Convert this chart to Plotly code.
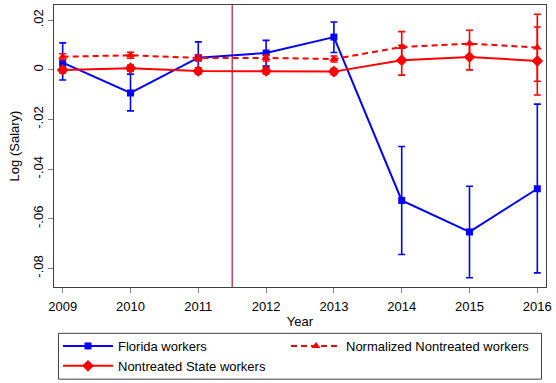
import plotly.graph_objects as go

# Survey years
years = [2009, 2010, 2011, 2012, 2013, 2014, 2015, 2016]

# Florida workers: point estimates and 95% CI bounds
florida = [0.0029, -0.0093, 0.0049, 0.0068, 0.0132, -0.0526, -0.0653, -0.0479]
florida_hi = [0.0109, -0.0017, 0.0113, 0.0119, 0.0193, -0.0309, -0.0469, -0.0138]
florida_lo = [-0.0041, -0.0165, -0.0013, 0.0015, 0.0070, -0.0744, -0.0838, -0.0818]

# Normalized nontreated workers
normalized = [0.0053, 0.0059, 0.0048, 0.0048, 0.0044, 0.0092, 0.0106, 0.0090]
normalized_hi = [0.0065, 0.0071, 0.0060, 0.0060, 0.0056, 0.0154, 0.0160, 0.0224]
normalized_lo = [0.0041, 0.0047, 0.0036, 0.0036, 0.0032, 0.0030, 0.0052, -0.0046]

# Nontreated state workers
nontreated = [0.0000, 0.0007, -0.0004, -0.0004, -0.0007, 0.0039, 0.0052, 0.0036]
nontreated_hi = [0.0012, 0.0019, 0.0008, 0.0008, 0.0005, 0.0099, 0.0104, 0.0173]
nontreated_lo = [-0.0012, -0.0005, -0.0016, -0.0016, -0.0019, -0.0021, 0.0000, -0.0101]

# Policy break between 2011 and 2012
policy_year = 2011.5

y_ticks = [-0.08, -0.06, -0.04, -0.02, 0, 0.02]
y_labels = ["-.08", "-.06", "-.04", "-.02", "0", ".02"]

FONT = "Liberation Sans, Arial, sans-serif"
BLUE = "#0000FF"
RED = "#FF0000"
FRAME = "#404040"

W, H = 556, 383
M_L, M_R, M_T, M_B = 54, 8, 4, 96
PLOT_W = W - M_L - M_R
PLOT_H = H - M_T - M_B


def err(vals, hi, lo, color):
    return dict(
        type="data",
        symmetric=False,
        array=[h - v for h, v in zip(hi, vals)],
        arrayminus=[v - l for v, l in zip(vals, lo)],
        color=color,
        thickness=1.6,
        width=3.5,
    )


def px_to_paper_x(px):
    return (px - M_L) / PLOT_W


def px_to_paper_y(py):
    return (H - M_B - py) / PLOT_H


fig = go.Figure()

fig.add_trace(go.Scatter(
    x=years, y=florida, name="Florida workers", mode="lines+markers",
    line=dict(color=BLUE, width=2),
    marker=dict(symbol="square", size=7, color=BLUE),
    error_y=err(florida, florida_hi, florida_lo, BLUE),
    legend="legend",
))
fig.add_trace(go.Scatter(
    x=years, y=normalized, name="Normalized Nontreated workers", mode="lines+markers",
    line=dict(color=RED, width=2, dash="6px,4px"),
    marker=dict(symbol="triangle-up", size=8, color=RED),
    error_y=err(normalized, normalized_hi, normalized_lo, RED),
    legend="legend2",
))
fig.add_trace(go.Scatter(
    x=years, y=nontreated, name="Nontreated State workers", mode="lines+markers",
    line=dict(color=RED, width=2),
    marker=dict(symbol="diamond", size=9, color=RED),
    error_y=err(nontreated, nontreated_hi, nontreated_lo, RED),
    legend="legend",
))

# Treatment onset marker
fig.add_shape(
    type="line", xref="x", yref="y domain",
    x0=policy_year, x1=policy_year, y0=0, y1=1,
    line=dict(color="#B5133F", width=1.2),
    layer="below",
)

# Frame shared by the two legend columns
fig.add_shape(
    type="rect", xref="paper", yref="paper",
    x0=px_to_paper_x(58.5), x1=px_to_paper_x(543.5),
    y0=px_to_paper_y(379.5), y1=px_to_paper_y(333.5),
    line=dict(color=FRAME, width=1),
    fillcolor="rgba(0,0,0,0)",
)

legend_common = dict(
    orientation="h",
    xref="container", yref="container",
    y=1 - 331 / H,
    xanchor="left", yanchor="top",
    borderwidth=0, bgcolor="rgba(0,0,0,0)",
    itemwidth=50,
    font=dict(family=FONT, size=13, color="black"),
    tracegroupgap=0,
)

fig.update_layout(
    width=W, height=H,
    margin=dict(l=M_L, r=M_R, t=M_T, b=M_B),
    paper_bgcolor="white", plot_bgcolor="white",
    font=dict(family=FONT, size=13, color="black"),
    showlegend=True,
    # first column: wide entries force one item per row
    legend=dict(x=58 / W, entrywidth=230, entrywidthmode="pixels", **legend_common),
    legend2=dict(x=286 / W, **legend_common),
    xaxis=dict(
        range=[2008.872, 2016.128],
        tickmode="array", tickvals=years, ticktext=[str(y) for y in years],
        ticks="outside", ticklen=5, tickcolor="#808080", tickwidth=1,
        ticklabelstandoff=2,
        showgrid=False, zeroline=False,
        showline=True, linecolor=FRAME, linewidth=1, mirror=True,
        title=dict(text="Year", standoff=4, font=dict(size=13)),
    ),
    yaxis=dict(
        range=[-0.0875, 0.02615],
        tickmode="array", tickvals=y_ticks, ticktext=y_labels,
        tickangle=-90,
        ticks="outside", ticklen=5, tickcolor="#808080", tickwidth=1,
        showgrid=False, zeroline=False,
        showline=True, linecolor=FRAME, linewidth=1, mirror=True,
        title=dict(text="Log (Salary)", standoff=8, font=dict(size=13)),
    ),
)

fig.write_html("out.html")
